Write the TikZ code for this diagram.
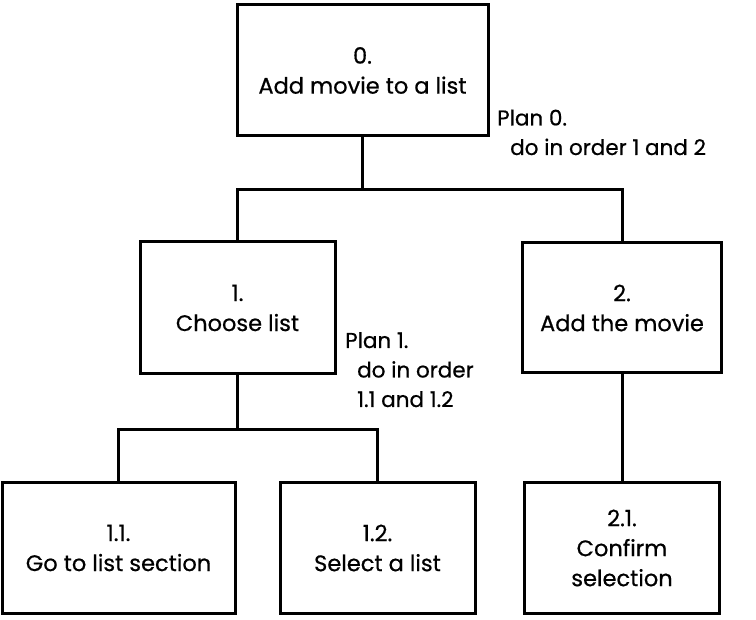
\documentclass[tikz,border=0pt]{standalone}
\usepackage{fontspec}
\setmainfont{Poppins}[FakeBold=0.6]
\begin{document}
\begin{tikzpicture}[x=1pt,y=-1pt,
  task/.style={draw=black, line width=3pt, fill=white, align=center, inner sep=2pt,
    font=\fontsize{22.5}{30}\selectfont},
  plan/.style={align=left, inner sep=0pt, anchor=base west,
    font=\fontsize{21.5}{29.5}\selectfont},
  link/.style={draw=black, line width=3pt}]
\useasboundingbox (0,0) rectangle (756,620);
\node[task, minimum width=251pt, minimum height=131pt] (b0) at (362.5,70.5) {0.\\Add movie to a list};
\node[task, minimum width=195pt, minimum height=132pt] (b1) at (237.5,308) {1.\\Choose list};
\node[task, minimum width=199pt, minimum height=130pt] (b2) at (622,308) {2.\\Add the movie};
\node[task, minimum width=233pt, minimum height=130pt] (b11) at (118.5,548) {1.1.\\Go to list section};
\node[task, minimum width=195pt, minimum height=130pt] (b12) at (377.5,548) {1.2.\\Select a list};
\node[task, minimum width=195pt, minimum height=130pt] (b21) at (622,548) {2.1.\\Confirm\\selection};
\node[plan] (p0) at (497,155) {Plan 0.\\\hspace*{13pt}do in order 1 and 2};
\node[plan] (p1) at (345,407) {Plan 1.\\\hspace*{12pt}do in order\\\hspace*{12pt}1.1 and 1.2};
\coordinate (j0) at (362.5,190);
\coordinate (j1) at (237.5,430);
\draw[link] (b0.south) -- (j0) -| (b1.north);
\draw[link] (j0) -| (b2.north);
\draw[link] (b1.south) -- (j1) -| (b11.north);
\draw[link] (j1) -| (b12.north);
\draw[link] (b2.south) -- (b21.north);
\end{tikzpicture}
\end{document}
